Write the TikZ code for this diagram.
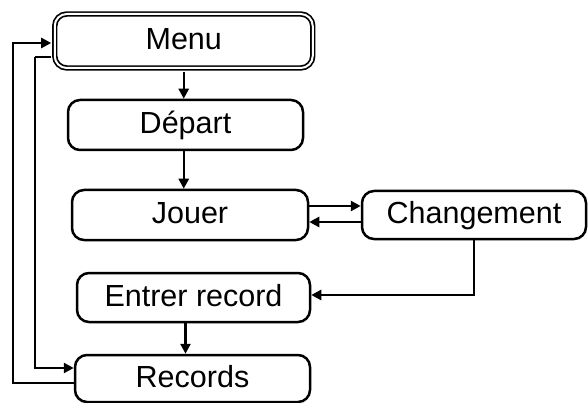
\documentclass[tikz,border=0pt]{standalone}
\usepackage{fontspec}
\setmainfont{Liberation Sans}
\usetikzlibrary{arrows.meta}
\begin{document}
\begin{tikzpicture}[x=1pt,y=-1pt,
  stepbox/.style={draw, line width=2.5pt, rounded corners=12pt, inner sep=0pt,
    font=\fontsize{30.5}{36}\selectfont, text height=22pt, text depth=4.5pt},
  menubox/.style={stepbox, double, double distance=2pt, line width=1.7pt},
  arr/.style={line width=2.5pt, -{Triangle[length=10pt,width=10pt]}},
  link/.style={line width=2.5pt}]
\useasboundingbox (0,0) rectangle (588,403);

% screens
\node[menubox, minimum width=258pt, minimum height=54pt] (menu) at (183.75,41) {Menu};
\node[stepbox, minimum width=235pt, minimum height=50pt] (dep) at (185.5,125) {Départ};
\node[stepbox, minimum width=236pt, minimum height=50pt] (jouer) at (190,215) {Jouer};
\node[stepbox, minimum width=224pt, minimum height=48pt] (chg) at (474,215) {Changement};
\node[stepbox, minimum width=233pt, minimum height=49pt] (entrer) at (193.5,297.5) {Entrer record};
\node[stepbox, minimum width=235pt, minimum height=47pt] (rec) at (192.5,378.5) {Records};

% corner points of the two return lines on the left
\coordinate (lo) at (13,43);
\coordinate (li) at (35,57);
\coordinate (libot) at (35,368);

% main flow
\draw[arr, shorten <=2.7pt] (menu.south) -- (menu.south |- dep.north);
\draw[arr] (dep.south -| menu.south) -- (jouer.north -| menu.south);
\draw[arr] ([yshift=9pt]jouer.east) -- ([yshift=9pt]chg.west);
\draw[arr] ([yshift=-7pt]chg.west) -- ([yshift=-7pt]jouer.east);
\draw[arr] (chg.south) |- ([yshift=2.5pt]entrer.east);
\draw[arr] (entrer.south -| dep.south) -- (rec.north -| dep.south);

% Records back to Menu, and Menu to Records
\draw[arr, shorten >=2.7pt] ([yshift=-4.5pt]rec.west) -| (lo) -- ([yshift=-2pt]menu.west);
\draw[link] ([xshift=-2.7pt,yshift=-16pt]menu.west) -- (li);
\draw[arr] (li) -- (libot) -- ([yshift=10.5pt]rec.west);
\end{tikzpicture}
\end{document}
